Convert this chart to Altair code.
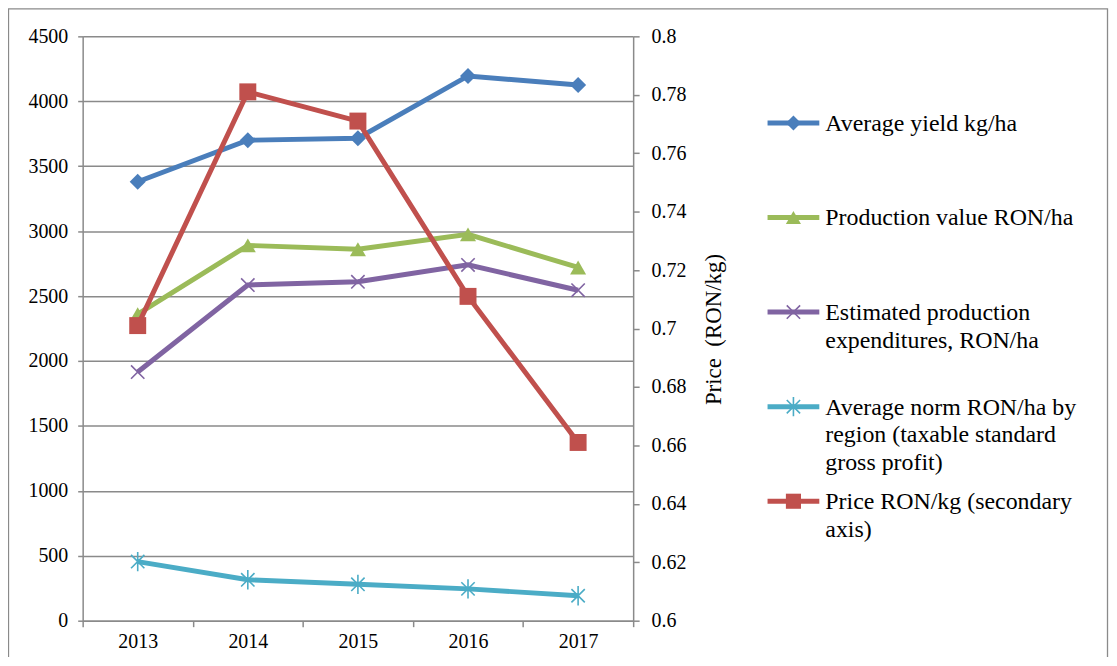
import altair as alt
import pandas as pd

# ---- data ----
years = ["2013", "2014", "2015", "2016", "2017"]
series_names = [
    "Average yield kg/ha",
    "Production value RON/ha",
    "Estimated production expenditures, RON/ha",
    "Average norm RON/ha by region (taxable standard gross profit)",
    "Price RON/kg (secondary axis)",
]
legend_text = [
    "Average yield kg/ha",
    "Production value RON/ha",
    "Estimated production\nexpenditures, RON/ha",
    "Average norm RON/ha by\nregion (taxable standard\ngross profit)",
    "Price RON/kg (secondary\naxis)",
]
yield_kg = [3380, 3700, 3715, 4195, 4125]
prod_value = [2360, 2890, 2860, 2975, 2720]
expenditures = [1915, 2585, 2610, 2740, 2545]
norm = [455, 315, 280, 245, 192]
price = [0.701, 0.781, 0.771, 0.711, 0.661]

left_ticks = [0, 500, 1000, 1500, 2000, 2500, 3000, 3500, 4000, 4500]
right_ticks = [0.6, 0.62, 0.64, 0.66, 0.68, 0.7, 0.72, 0.74, 0.76, 0.78, 0.8]

colors = ["#4A7EBB", "#9BBB59", "#8064A2", "#4BACC6", "#C0504D"]
X_PATH = "M-1,-1L1,1M-1,1L1,-1"
AST_PATH = "M-1,-1L1,1M-1,1L1,-1M0,-1.45L0,1.45"
shapes = ["diamond", "triangle-up", X_PATH, AST_PATH, "square"]

FONT = "Liberation Serif"
GRID = "#8A8A8A"
LW = 5

# ---- tables ----
rows = []
for name, vals in zip(series_names[:4], [yield_kg, prod_value, expenditures, norm]):
    for yr, v in zip(years, vals):
        rows.append({"year": yr, "value": v, "series": name})
df_left = pd.DataFrame(rows)
df_price = pd.DataFrame({"year": years, "price": price, "series": series_names[4]})
df_legend = pd.DataFrame({"series": series_names, "label": legend_text,
                          "idx": list(range(len(series_names)))})

color = alt.Color("series:N", scale=alt.Scale(domain=series_names, range=colors), legend=None)
shape = alt.Shape("series:N", scale=alt.Scale(domain=series_names, range=shapes), legend=None)

axis_common = dict(labelFont=FONT, labelFontSize=20, labelColor="black",
                   domainColor=GRID, tickColor=GRID, domainWidth=1.5, tickWidth=1.5)

x_enc = alt.X("year:O",
              scale=alt.Scale(type="band", paddingInner=0, paddingOuter=0),
              axis=alt.Axis(title=None, labelAngle=0, tickBand="extent", tickSize=6,
                            labelPadding=5, grid=False, **axis_common))

y_left = alt.Y("value:Q",
               scale=alt.Scale(domain=[0, 4500], nice=False),
               axis=alt.Axis(title=None, orient="left", values=left_ticks, format="d", grid=True,
                             gridColor=GRID, gridWidth=1.5, tickSize=5, labelPadding=10,
                             **axis_common))

base_left = alt.Chart(df_left)
lines_left = base_left.mark_line(strokeWidth=LW).encode(x=x_enc, y=y_left, color=color)
pts_filled = base_left.mark_point(filled=True, size=260, opacity=1).encode(
    x=x_enc, y=y_left, color=color, shape=shape
).transform_filter(alt.FieldOneOfPredicate(field="series", oneOf=series_names[:2]))
pts_stroked = base_left.mark_point(filled=False, size=180, strokeWidth=1.6, opacity=1).encode(
    x=x_enc, y=y_left, color=color, shape=shape
).transform_filter(alt.FieldOneOfPredicate(field="series", oneOf=series_names[2:4]))
left_layer = alt.layer(lines_left, pts_filled, pts_stroked)

y_right = alt.Y("price:Q",
                scale=alt.Scale(domain=[0.6, 0.8], nice=False, zero=False),
                axis=alt.Axis(title="Price\u00a0 (RON/kg)", orient="right", values=right_ticks,
                              format=".2~f", grid=False, tickSize=6, labelPadding=12,
                              titleAngle=270, titleX=81, titleY=294, titleAlign="center",
                              titleBaseline="middle", titleFontSize=23, titleFont=FONT,
                              titleFontWeight="normal", titleColor="black",
                              **axis_common))
base_price = alt.Chart(df_price)
price_layer = alt.layer(
    base_price.mark_line(strokeWidth=LW).encode(x=x_enc, y=y_right, color=color),
    base_price.mark_point(filled=True, size=290, opacity=1).encode(
        x=x_enc, y=y_right, color=color, shape=shape),
)

y_leg = alt.Y("idx:Q", scale=alt.Scale(domain=[0, 4], range=[87, 467]), axis=None)
base_leg = alt.Chart(df_legend)
leg_rule = base_leg.mark_rule(strokeWidth=LW).encode(
    x=alt.value(688), x2=alt.value(740), y=y_leg, color=color)
leg_pts_f = base_leg.mark_point(filled=True, size=230, opacity=1).encode(
    x=alt.value(714), y=y_leg, color=color, shape=shape
).transform_filter(alt.FieldOneOfPredicate(field="series",
                                           oneOf=[series_names[0], series_names[1], series_names[4]]))
leg_pts_s = base_leg.mark_point(filled=False, size=180, strokeWidth=1.6, opacity=1).encode(
    x=alt.value(714), y=y_leg, color=color, shape=shape
).transform_filter(alt.FieldOneOfPredicate(field="series", oneOf=series_names[2:4]))
leg_text = base_leg.mark_text(align="left", baseline="alphabetic", dy=8, lineBreak="\n",
                              fontSize=24, lineHeight=28, font=FONT, color="black").encode(
    x=alt.value(746), y=y_leg, text="label:N")
border = alt.Chart(pd.DataFrame({"k": [0]})).mark_rect(
    fill="transparent", stroke=GRID, strokeWidth=1.3).encode(
    x=alt.value(-74.5), x2=alt.value(1029.5), y=alt.value(-27.5), y2=alt.value(700))
legend_layer = alt.layer(border, leg_rule, leg_pts_f, leg_pts_s, leg_text)

chart = alt.layer(left_layer, price_layer, legend_layer).resolve_scale(
    y="independent"
).properties(
    width=553, height=587,
    padding={"left": 75, "top": 27, "right": 478, "bottom": 35},
    autosize=alt.AutoSizeParams(type="none"),
    background="white",
).configure_view(stroke=None).configure_axis(
    labelFont=FONT, titleFont=FONT
).configure_axisY(
    labelFont=FONT, titleFont=FONT
).configure_axisLeft(
    labelFont=FONT
).configure_axisRight(
    labelFont=FONT
).configure_text(font=FONT)

chart.save("out.html", embed_options={"renderer": "svg", "actions": False})
